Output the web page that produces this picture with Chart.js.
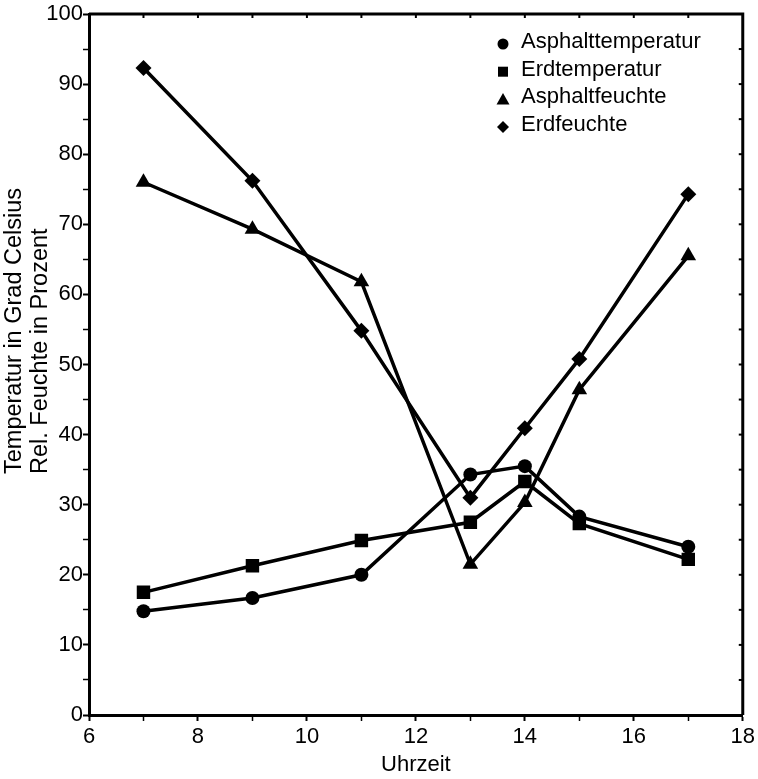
<!DOCTYPE html>
<html>
<head>
<meta charset="utf-8">
<script src="https://cdn.jsdelivr.net/npm/chart.js@4"></script>
<style>
  html, body { margin: 0; padding: 0; background: #fff; }
  #wrap { width: 758px; height: 779px; position: relative; }
</style>
</head>
<body>
<div id="wrap"><canvas id="chart"></canvas></div>
<script>
// values
const hours = [7, 9, 11, 13, 14, 15, 17];
const asphaltTemp = [14.8, 16.7, 20.0, 34.3, 35.5, 28.3, 24.0];
const erdTemp = [17.5, 21.3, 24.9, 27.5, 33.3, 27.3, 22.2];
const asphaltFeuchte = [76.0, 69.3, 61.8, 21.5, 30.3, 46.4, 65.5];
const erdFeuchte = [92.3, 76.2, 54.8, 31.0, 40.9, 50.8, 74.3];

const seriesLabels = ['Asphalttemperatur', 'Erdtemperatur', 'Asphaltfeuchte', 'Erdfeuchte'];
const yTitle = ['Temperatur in Grad Celsius', 'Rel. Feuchte in Prozent'];
const xTitle = 'Uhrzeit';

const FONT = "'Liberation Sans', Arial, Helvetica, sans-serif";
Chart.defaults.font.family = FONT;
Chart.defaults.color = '#000';

const toPoints = values => values.map((v, i) => ({ x: hours[i], y: v }));

const styles = [
  { pointStyle: 'circle', radius: 7 },
  { pointStyle: 'rect', radius: 9.5 },
  { pointStyle: 'triangle', radius: 9 },
  { pointStyle: 'rectRot', radius: 8 }
];

const seriesValues = [asphaltTemp, erdTemp, asphaltFeuchte, erdFeuchte];

const datasets = seriesValues.map((values, i) => ({
  label: seriesLabels[i],
  data: toPoints(values),
  showLine: true,
  borderColor: '#000',
  backgroundColor: '#000',
  borderWidth: 3.5,
  pointStyle: styles[i].pointStyle,
  pointRadius: styles[i].radius,
  pointBorderWidth: 0,
  pointBackgroundColor: '#000'
}));

function marker(ctx, style, x, y, r) {
  ctx.beginPath();
  if (style === 'circle') {
    ctx.arc(x, y, r, 0, Math.PI * 2);
  } else if (style === 'rect') {
    ctx.rect(x - r, y - r, 2 * r, 2 * r);
  } else if (style === 'triangle') {
    ctx.moveTo(x, y - r);
    ctx.lineTo(x + r, y + r * 0.8);
    ctx.lineTo(x - r, y + r * 0.8);
    ctx.closePath();
  } else {
    ctx.moveTo(x, y - r);
    ctx.lineTo(x + r, y);
    ctx.lineTo(x, y + r);
    ctx.lineTo(x - r, y);
    ctx.closePath();
  }
  ctx.fill();
}

// frame on top/right, inward ticks, legend and y title
const decorations = {
  id: 'decorations',
  afterDraw(chart) {
    const { ctx, chartArea: a, scales: { x, y } } = chart;
    ctx.save();
    ctx.strokeStyle = '#000';
    ctx.lineWidth = 3;
    ctx.beginPath();
    ctx.moveTo(a.left, a.top);
    ctx.lineTo(a.right, a.top);
    ctx.lineTo(a.right, a.bottom);
    ctx.stroke();

    ctx.lineWidth = 2;
    for (let v = 7; v < 18; v++) {
      const px = x.getPixelForValue(v);
      ctx.beginPath();
      ctx.moveTo(px, a.top);
      ctx.lineTo(px, a.top + 4);
      ctx.stroke();
    }
    for (let v = 5; v < 100; v += 5) {
      const py = y.getPixelForValue(v);
      ctx.beginPath();
      ctx.moveTo(a.right, py);
      ctx.lineTo(a.right - 4, py);
      ctx.stroke();
    }

    // legend inside the plot
    ctx.fillStyle = '#000';
    ctx.font = '22px ' + FONT;
    ctx.textAlign = 'left';
    ctx.textBaseline = 'alphabetic';
    const legendSizes = [5.5, 5, 6.5, 6];
    chart.data.datasets.forEach((ds, i) => {
      const cy = 44 + i * 27.7;
      marker(ctx, ds.pointStyle, 503, cy, legendSizes[i]);
      ctx.fillText(ds.label, 521, cy + 4);
    });

    // y axis title, two rotated lines
    ctx.font = '23.5px ' + FONT;
    ctx.textBaseline = 'middle';
    [15, 41].forEach((tx, i) => {
      ctx.save();
      ctx.translate(tx, 474);
      ctx.rotate(-Math.PI / 2);
      ctx.fillText(yTitle[i], 0, 0);
      ctx.restore();
    });
    ctx.restore();
  }
};

new Chart(document.getElementById('chart'), {
  type: 'scatter',
  data: { datasets },
  plugins: [decorations],
  options: {
    responsive: true,
    maintainAspectRatio: false,
    animation: false,
    layout: { padding: { top: 14, right: 12, left: 0, bottom: 0 } },
    plugins: {
      legend: { display: false },
      tooltip: { enabled: false }
    },
    scales: {
      x: {
        type: 'linear',
        min: 6,
        max: 18,
        afterFit: scale => { scale.height = 64; },
        border: { display: true, color: '#000', width: 3 },
        grid: {
          drawOnChartArea: false,
          tickLength: 6,
          tickColor: '#000',
          tickWidth: ctx => (ctx.tick && ctx.tick.value % 2 === 0 ? 2 : 1.5)
        },
        ticks: {
          stepSize: 1,
          padding: 3,
          maxRotation: 0,
          autoSkip: false,
          font: { size: 22 },
          color: '#000',
          callback: v => (v % 2 === 0 ? v : '')
        },
        title: {
          display: true,
          text: xTitle,
          font: { size: 22 },
          color: '#000',
          padding: { top: 0, bottom: 1 }
        }
      },
      y: {
        min: 0,
        max: 100,
        afterFit: scale => { scale.width = 89; },
        border: { display: true, color: '#000', width: 3 },
        grid: {
          drawOnChartArea: false,
          tickLength: 6,
          tickColor: '#000',
          tickWidth: ctx => (ctx.tick && ctx.tick.value % 10 === 0 ? 2 : 1.5)
        },
        ticks: {
          stepSize: 5,
          padding: 0,
          autoSkip: false,
          font: { size: 22 },
          color: '#000',
          callback: v => (v % 10 === 0 ? v : '')
        }
      }
    }
  }
});
</script>
</body>
</html>
